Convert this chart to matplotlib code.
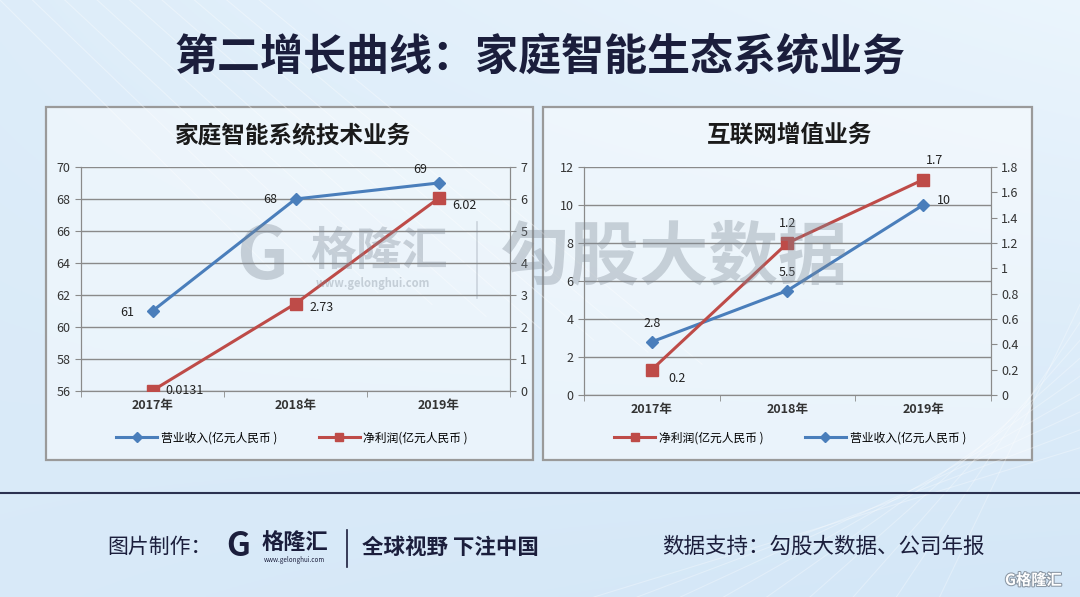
import numpy as np
import matplotlib.pyplot as plt
from matplotlib.lines import Line2D
from matplotlib.patches import Rectangle
import matplotlib.patheffects as pe

plt.rcParams['font.family'] = ['Noto Sans CJK SC', 'DejaVu Sans']

years = ['2017年', '2018年', '2019年']

# 家庭智能系统技术业务 (亿元人民币)
home_revenue = [61, 68, 69]
home_profit = [0.0131, 2.73, 6.02]
home_profit_text = ['0.0131', '2.73', '6.02']

# 互联网增值业务 (亿元人民币)
net_revenue = [2.8, 5.5, 10]
net_profit = [0.2, 1.2, 1.7]

rev_label = '营业收入(亿元人民币 )'
prof_label = '净利润(亿元人民币 )'

BLUE = '#4a7ebb'
RED = '#be4b48'
GRID = '#8a8a8a'
NAVY = '#1b1e3c'
W, H = 1080, 597


def box(x0, y0, x1, y1):
    # pixel box (top-left origin) -> figure rect
    return [x0 / W, 1 - y1 / H, (x1 - x0) / W, (y1 - y0) / H]


fig = plt.figure(figsize=(10.8, 5.97), dpi=100)

# background gradient
bg = fig.add_axes([0, 0, 1, 1], zorder=-10)
yy, xx = np.mgrid[0:1:300j, 0:1:540j]
light = np.array([0.92, 0.96, 0.99])
dark = np.array([0.79, 0.88, 0.96])
t = np.clip(0.55 * yy + 0.4 * (1 - xx) * (1 - yy) + 0.15 * xx * yy, 0, 1)
img = light * (1 - t[..., None]) + dark * t[..., None]
bg.imshow(img, extent=[0, 1, 0, 1], aspect='auto', origin='upper')
# faint streaks
for k in range(9):
    bg.plot([0.0 + k * 0.03, 0.25 + k * 0.05], [1.0, 0.55 - k * 0.02], color='white', lw=0.8, alpha=0.35)
    bg.plot([0.55 + k * 0.04, 1.0], [0.0, 0.25 + k * 0.03], color='white', lw=0.8, alpha=0.3)
bg.set_xlim(0, 1)
bg.set_ylim(0, 1)
bg.axis('off')

# separator line
bg.plot([0, 1], [1 - 493 / H, 1 - 493 / H], color='#2b3150', lw=1.5)

# panels
for (x0, x1) in [(46, 533), (543, 1032)]:
    r = box(x0, 107, x1, 460)
    bg.add_patch(Rectangle((r[0], r[1]), r[2], r[3], facecolor='white', alpha=0.45,
                           edgecolor='none', transform=bg.transAxes))
    bg.add_patch(Rectangle((r[0], r[1]), r[2], r[3], facecolor='none',
                           edgecolor='#9a9a9a', lw=1.6, transform=bg.transAxes))

# main title
fig.text(540 / W, 1 - 57 / H, '第二增长曲线：家庭智能生态系统业务', ha='center', va='center',
         fontsize=31, fontweight='bold', color=NAVY)


def style_axes(ax, ax2):
    x = np.arange(len(years))
    ax.set_xlim(-0.5, 2.5)
    ax.set_xticks(x)
    ax.set_xticklabels(years, fontsize=9, fontweight='bold', color='#333333')
    ax.set_xticks([-0.5, 0.5, 1.5, 2.5], minor=True)
    ax.tick_params(axis='x', which='major', length=0, pad=6)
    ax.tick_params(axis='x', which='minor', length=4, color=GRID, direction='out')
    ax.tick_params(axis='y', length=4, color=GRID, labelsize=9, labelcolor='#333333')
    ax2.tick_params(axis='y', length=4, color=GRID, labelsize=9, labelcolor='#333333')
    ax.grid(axis='y', color=GRID, lw=1.0)
    ax.set_facecolor('none')
    for a in (ax, ax2):
        for s in a.spines.values():
            s.set_color(GRID)
        a.spines['top'].set_visible(False)
    ax.set_axisbelow(True)


x = np.arange(len(years))

# ---------- left chart ----------
ax = fig.add_axes(box(81, 167, 510, 391))
ax2 = ax.twinx()
ax.set_ylim(56, 70)
ax.set_yticks(np.arange(56, 71, 2))
ax2.set_ylim(0, 7)
ax2.set_yticks(np.arange(0, 8, 1))
style_axes(ax, ax2)
l1, = ax.plot(x, home_revenue, color=BLUE, lw=2.2, marker='D', ms=6, zorder=3)
l2, = ax2.plot(x, home_profit, color=RED, lw=2.2, marker='s', ms=8, zorder=3)
ax2.set_zorder(ax.get_zorder() + 1)
ax2.patch.set_visible(False)
rev_off = [(-13, -1), (-13, 0), (-8, 10)]
for xi, v, off in zip(x, home_revenue, rev_off):
    ax.annotate(f'{v}', (xi, v), xytext=off, textcoords='offset points',
                ha='right' if off[0] < 0 else 'center', va='center', fontsize=9, color='#222222')
prof_off = [(9, 0), (10, -3), (10, -5)]
for xi, v, s, off in zip(x, home_profit, home_profit_text, prof_off):
    ax2.annotate(s, (xi, v), xytext=off, textcoords='offset points',
                 ha='left', va='center', fontsize=9, color='#222222')
fig.text(293 / W, 1 - 135 / H, '家庭智能系统技术业务', ha='center', va='center',
         fontsize=17, fontweight='bold', color='#1a1a1a')
fig.legend([l1, l2], [rev_label, prof_label], loc='center', bbox_to_anchor=(292 / W, 1 - 438 / H),
           ncol=2, frameon=False, fontsize=8.5, handlelength=3.5, columnspacing=3.5,
           handletextpad=0.3, markerscale=0.8)

# ---------- right chart ----------
bx = fig.add_axes(box(584, 167, 991, 395))
bx2 = bx.twinx()
bx.set_ylim(0, 12)
bx.set_yticks(np.arange(0, 13, 2))
bx2.set_ylim(0, 1.8)
bx2.set_yticks(np.arange(0, 1.81, 0.2))
bx2.set_yticklabels(['0', '0.2', '0.4', '0.6', '0.8', '1', '1.2', '1.4', '1.6', '1.8'])
style_axes(bx, bx2)
m1, = bx.plot(x, net_revenue, color=BLUE, lw=2.2, marker='D', ms=6, zorder=3)
m2, = bx2.plot(x, net_profit, color=RED, lw=2.2, marker='s', ms=8, zorder=3)
bx2.set_zorder(bx.get_zorder() + 1)
bx2.patch.set_visible(False)
nrev_off = [(0, 13), (0, 13), (10, 3)]
for xi, v, off in zip(x, net_revenue, nrev_off):
    bx.annotate(f'{v:g}', (xi, v), xytext=off, textcoords='offset points',
                ha='left' if off[0] > 0 else 'center', va='center', fontsize=9, color='#222222')
nprof_off = [(12, -6), (0, 14), (8, 14)]
for xi, v, off in zip(x, net_profit, nprof_off):
    bx2.annotate(f'{v:g}', (xi, v), xytext=off, textcoords='offset points',
                 ha='left' if off == (12, -6) else 'center', va='center', fontsize=9, color='#222222')
fig.text(790 / W, 1 - 135 / H, '互联网增值业务', ha='center', va='center',
         fontsize=17, fontweight='bold', color='#1a1a1a')
fig.legend([m2, m1], [prof_label, rev_label], loc='center', bbox_to_anchor=(790 / W, 1 - 438 / H),
           ncol=2, frameon=False, fontsize=8.5, handlelength=3.5, columnspacing=3.5,
           handletextpad=0.3, markerscale=0.8)

# watermarks
wm = dict(color='#7d8894', alpha=0.35, fontweight='bold', ha='left', va='center', zorder=20)
fig.text(236 / W, 1 - 258 / H, 'G', fontsize=52, **wm)
fig.text(310 / W, 1 - 252 / H, '格隆汇', fontsize=33, **wm)
fig.text(316 / W, 1 - 283 / H, 'www.gelonghui.com', fontsize=8, **wm)
fig.add_artist(Line2D([477 / W, 477 / W], [1 - 222 / H, 1 - 298 / H], color='#7d8894', alpha=0.3, lw=1.2))
fig.text(500 / W, 1 - 258 / H, '勾股大数据', fontsize=50, **wm)

# footer
foot = dict(ha='left', va='center', color=NAVY)
fig.text(107 / W, 1 - 547 / H, '图片制作：', fontsize=15, **foot)
fig.text(226 / W, 1 - 546 / H, 'G', fontsize=24, fontweight='bold', **foot)
fig.text(262 / W, 1 - 542 / H, '格隆汇', fontsize=16, fontweight='bold', **foot)
fig.text(264 / W, 1 - 560 / H, 'www.gelonghui.com', fontsize=4.5, **foot)
fig.add_artist(Line2D([347 / W, 347 / W], [1 - 530 / H, 1 - 567 / H], color=NAVY, lw=1.2))
fig.text(362 / W, 1 - 547 / H, '全球视野 下注中国', fontsize=15.5, fontweight='bold', **foot)
fig.text(662 / W, 1 - 547 / H, '数据支持：勾股大数据、公司年报', fontsize=15.5, **foot)
fig.text(1005 / W, 1 - 580 / H, 'G格隆汇', fontsize=11, fontweight='bold', color='white', ha='left',
         va='center', path_effects=[pe.withStroke(linewidth=1.5, foreground='#8a96a3')])

fig.savefig('out.png', dpi=100)
